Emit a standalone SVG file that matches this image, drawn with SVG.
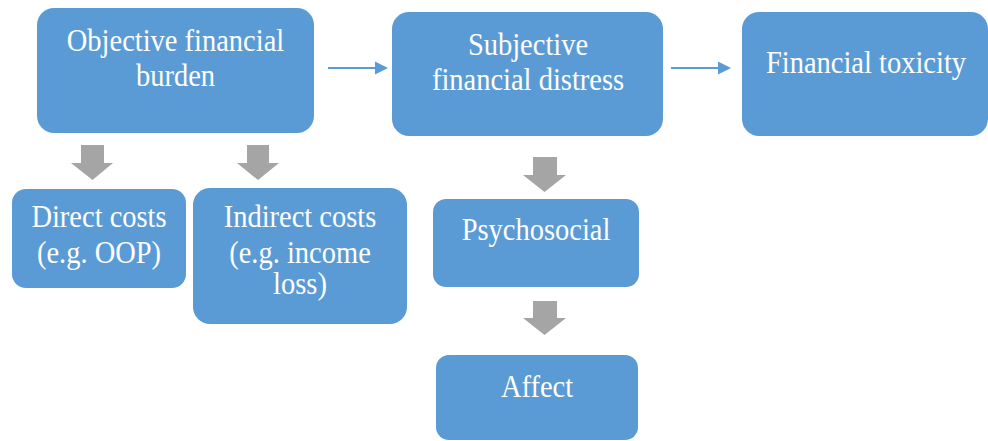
<svg xmlns="http://www.w3.org/2000/svg" width="988" height="441" viewBox="0 0 988 441">
<defs>
<style>
.box{fill:#5B9BD5;}
.t{font-family:"Liberation Serif","Times New Roman",serif;font-size:28.5px;fill:#FFFFFF;text-anchor:middle;}
.ln{stroke:#5B9BD5;stroke-width:2.2;fill:none;}
.ah{fill:#5B9BD5;}
.ga{fill:#A5A5A5;}
</style>
</defs>
<rect width="988" height="441" fill="#FFFFFF"/>
<g id="connectors">
<line class="ln" x1="328" y1="68" x2="376" y2="68"/>
<polygon class="ah" points="375,61.5 388,68 375,74.5"/>
<line class="ln" x1="671" y1="68" x2="719" y2="68"/>
<polygon class="ah" points="718,61.5 731,68 718,74.5"/>
<polygon class="ga" points="81,145 104,145 104,163 113,163 92.5,180 71,163 81,163"/>
<polygon class="ga" points="247,145 269,145 269,163 279,163 258,180 237,163 247,163"/>
<polygon class="ga" points="533,157 557,157 557,175 566,175 544.5,192 523,175 533,175"/>
<polygon class="ga" points="533,301 557,301 557,318 566,318 544.5,335 523,318 533,318"/>
</g>
<g id="objective">
<rect class="box" x="37" y="8" width="277" height="125" rx="17"/>
<text class="t" transform="matrix(1,0,0,1.1,175.5,51)">Objective financial</text>
<text class="t" transform="matrix(1,0,0,1.1,175.5,86)">burden</text>
</g>
<g id="subjective">
<rect class="box" x="392" y="12" width="271" height="124" rx="17"/>
<text class="t" transform="matrix(1,0,0,1.1,528,55)">Subjective</text>
<text class="t" transform="matrix(1,0,0,1.1,528,90)">financial distress</text>
</g>
<g id="toxicity">
<rect class="box" x="742" y="12" width="246" height="124" rx="17"/>
<text class="t" transform="matrix(1,0,0,1.1,866,73)">Financial toxicity</text>
</g>
<g id="direct">
<rect class="box" x="12" y="189" width="174" height="99" rx="14"/>
<text class="t" transform="matrix(1,0,0,1.1,99,227)">Direct costs</text>
<text class="t" transform="matrix(1,0,0,1.1,99,263)">(e.g. OOP)</text>
</g>
<g id="indirect">
<rect class="box" x="193" y="188" width="214" height="136" rx="17"/>
<text class="t" transform="matrix(1,0,0,1.1,300,227)">Indirect costs</text>
<text class="t" transform="matrix(1,0,0,1.1,300,263)">(e.g. income</text>
<text class="t" transform="matrix(1,0,0,1.1,300,294)">loss)</text>
</g>
<g id="psychosocial">
<rect class="box" x="433" y="199" width="206" height="88" rx="13"/>
<text class="t" transform="matrix(1,0,0,1.1,536,240)">Psychosocial</text>
</g>
<g id="affect">
<rect class="box" x="436" y="355" width="202" height="85" rx="13"/>
<text class="t" transform="matrix(1,0,0,1.1,537,397)">Affect</text>
</g>
</svg>
